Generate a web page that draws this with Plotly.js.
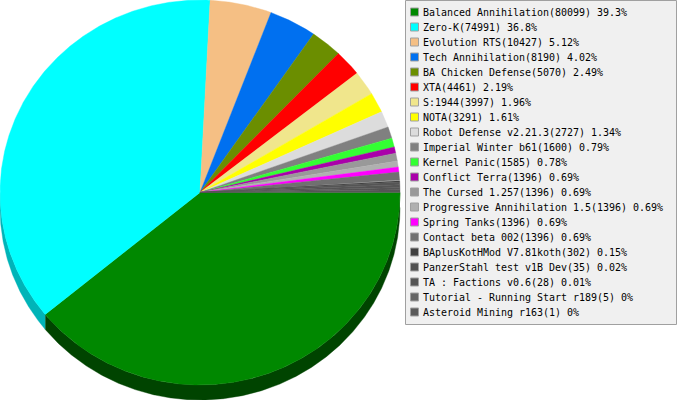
<!DOCTYPE html>
<html>
<head>
<meta charset="utf-8">
<script src="https://cdn.plot.ly/plotly-3.0.1.min.js"></script>
<style>html,body{margin:0;padding:0;background:#fff;overflow:hidden}</style>
</head>
<body>
<div id="chart" style="width:677px;height:400px"></div>
<script>
const modNames = ["Balanced Annihilation","Zero-K","Evolution RTS","Tech Annihilation","BA Chicken Defense","XTA","S:1944","NOTA","Robot Defense v2.21.3","Imperial Winter b61","Kernel Panic","Conflict Terra","The Cursed 1.257","Progressive Annihilation 1.5","Spring Tanks","Contact beta 002","BAplusKotHMod V7.81koth","PanzerStahl test v1B Dev","TA : Factions v0.6","Tutorial - Running Start r189","Asteroid Mining r163"];
const modCounts = [80099,74991,10427,8190,5070,4461,3997,3291,2727,1600,1585,1396,1396,1396,1396,1396,302,35,28,5,1];
const modShares = ["39.3","36.8","5.12","4.02","2.49","2.19","1.96","1.61","1.34","0.79","0.78","0.69","0.69","0.69","0.69","0.69","0.15","0.02","0.01","0","0"];
// the source chart rounds slices to whole-ish degrees, so tiny mods still get a sliver.
const drawnDegrees = [140.7,132.2,17.9,13.8,9.2,7.9,7.4,6.1,4.9,3.5,2.7,1.9,2.4,1.8,1.5,2.4,0.6,0.8,0.8,0.7,0.8];
const sliceColors = ["#008800","#00ffff","#f5bf84","#0070f0","#6b8e00","#ff0000","#f0e68c","#ffff00","#dcdcdc","#808080","#33ff33","#aa00aa","#999999","#b0b0b0","#ff00ff","#707070","#404040","#505050","#555555","#666666","#5a5a5a"];
const wedgeColors = sliceColors.map((c,i)=> i>=17 ? "#555555" : c);
const sideColors = {"#008800":"#004400","#00ffff":"#00b4b8"};

const cx = 200, cy = 192.5, rx = 200, ry = 192.5, depth = 15;
const traces = [], shapes = [], annotations = [];

function arc(a0, a1, dy){
  const n = Math.max(2, Math.ceil((a1-a0)/0.005));
  const xs = [], ys = [];
  for(let i=0;i<=n;i++){
    const t = a0+(a1-a0)*i/n;
    xs.push(cx+rx*Math.cos(t)); ys.push(cy+ry*Math.sin(t)+dy);
  }
  return [xs,ys];
}
function poly(x,y,color,name){
  traces.push({type:"scatter",mode:"lines",x,y,fill:"toself",fillcolor:color,
    line:{color,width:0.4},name,hoverinfo:"name",showlegend:false});
}
let start = 0;
const tops = [];
drawnDegrees.forEach((d,i)=>{
  const a0 = start, a1 = start + d*Math.PI/180;
  start = a1;
  const b0 = Math.max(a0,0), b1 = Math.min(a1,Math.PI);
  if(b1>b0){
    const [xa,ya] = arc(b0,b1,0), [xb,yb] = arc(b0,b1,depth);
    poly(xa.concat(xb.reverse()), ya.concat(yb.reverse()), sideColors[sliceColors[i]]||"#333333", modNames[i]+" rim");
  }
  const [xs,ys] = arc(a0,a1,0);
  tops.push([[cx].concat(xs,[cx]),[cy].concat(ys,[cy]),wedgeColors[i],modNames[i]]);
});
tops.forEach(t=>poly(t[0],t[1],t[2],t[3]));

shapes.push({type:"rect",xref:"x",yref:"y",x0:405.5,x1:676.5,y0:0.5,y1:324.5,
  fillcolor:"#f0f0f0",line:{color:"#a0a0a0",width:1},layer:"below"});
modNames.forEach((n,i)=>{
  const y = 12+15*i;
  shapes.push({type:"rect",xref:"x",yref:"y",x0:410.5,x1:418.5,y0:y-4,y1:y+4,
    fillcolor:sliceColors[i],line:{color:"#a0a0a0",width:1},layer:"above"});
  annotations.push({xref:"x",yref:"y",x:423,y:y,xanchor:"left",yanchor:"middle",showarrow:false,
    borderpad:0,borderwidth:0,align:"left",
    text:`${n}(${modCounts[i]}) ${modShares[i]}%`,
    font:{family:"'DejaVu Sans Mono',monospace",size:9.97,color:"#000000"}});
});

Plotly.newPlot("chart",traces,{
  width:677,height:400,margin:{l:0,r:0,t:0,b:0,pad:0},
  paper_bgcolor:"#ffffff",plot_bgcolor:"#ffffff",showlegend:false,
  xaxis:{range:[0,677],visible:false,fixedrange:true},
  yaxis:{range:[400,0],visible:false,fixedrange:true},
  shapes,annotations
},{displayModeBar:false,staticPlot:true});
</script>
</body>
</html>
